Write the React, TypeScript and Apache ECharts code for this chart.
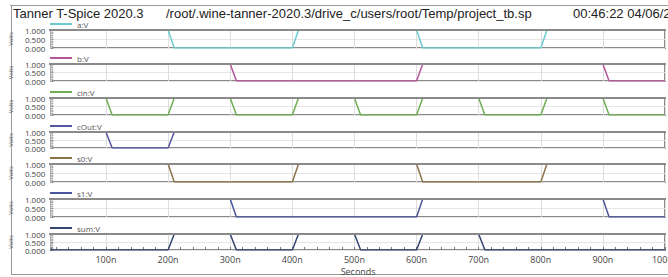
import React, { useEffect, useRef } from "react";
import * as echarts from "echarts";

// Waveform break-points (time in ns, level in V)
const signalNames = ["a:V", "b:V", "cin:V", "cOut:V", "s0:V", "s1:V", "sum:V"];
const aTimes = [0, 200, 210, 400, 410, 600, 610, 800, 810, 1000];
const aVolts = [1, 1, 0, 0, 1, 1, 0, 0, 1, 1];
const bTimes = [0, 300, 310, 600, 610, 900, 910, 1000];
const bVolts = [1, 1, 0, 0, 1, 1, 0, 0];
const cinTimes = [0, 100, 110, 200, 210, 300, 310, 400, 410, 500, 510, 600, 610, 700, 710, 800, 810, 900, 910, 1000];
const cinVolts = [1, 1, 0, 0, 1, 1, 0, 0, 1, 1, 0, 0, 1, 1, 0, 0, 1, 1, 0, 0];
const coutTimes = [0, 100, 110, 200, 210, 1000];
const coutVolts = [1, 1, 0, 0, 1, 1];
const s0Times = [0, 200, 210, 400, 410, 600, 610, 800, 810, 1000];
const s0Volts = [1, 1, 0, 0, 1, 1, 0, 0, 1, 1];
const s1Times = [0, 300, 310, 600, 610, 900, 910, 1000];
const s1Volts = [1, 1, 0, 0, 1, 1, 0, 0];
const sumTimes = [0, 200, 210, 300, 310, 400, 410, 500, 510, 600, 610, 700, 710, 1000];
const sumVolts = [0, 0, 1, 1, 0, 0, 1, 1, 0, 0, 1, 1, 0, 0];
const yTickLabels = ["0.000", "0.500", "1.000"];

const signalTimes = [aTimes, bTimes, cinTimes, coutTimes, s0Times, s1Times, sumTimes];
const signalVolts = [aVolts, bVolts, cinVolts, coutVolts, s0Volts, s1Volts, sumVolts];
const colors = ["#6ccbd0", "#b5559a", "#6fae52", "#55559e", "#8c7448", "#4a5699", "#34466e"];

const gridTops = [30, 64, 98, 132, 164, 199, 234];
const gridHeights = [18, 17, 17, 16, 18, 18, 18];
const GRID_LEFT = 50;
const GRID_WIDTH = 615;
const LABEL_FONT = "'Open Sans', 'DejaVu Sans', sans-serif";

export default function App() {
  const ref = useRef<HTMLDivElement>(null);
  useEffect(() => {
    if (!ref.current) return;
    const chart = echarts.init(ref.current, null, { renderer: "svg" });
    const n = signalNames.length;
    const grids = [];
    const xAxes = [];
    const yAxes = [];
    const series = [];
    const legends = [];
    const graphics: any[] = [];
    for (let i = 0; i < n; i++) {
      const last = i === n - 1;
      grids.push({
        left: GRID_LEFT,
        width: GRID_WIDTH,
        top: gridTops[i],
        height: gridHeights[i],
        show: true,
        backgroundColor: "#ffffff",
        borderColor: "#8a8a8a",
        borderWidth: 2,
      });
      xAxes.push({
        type: "value",
        gridIndex: i,
        min: 12,
        max: 1000,
        splitNumber: 10,
        axisLine: { show: false },
        axisTick: last
          ? { show: true, inside: true, length: 3, lineStyle: { color: "#777" } }
          : { show: false },
        minorTick: last
          ? { show: true, splitNumber: 5, length: 3, lineStyle: { color: "#777" } }
          : { show: false },
        axisLabel: last
          ? {
              show: true,
              showMinLabel: false,
              margin: 5,
              fontSize: 9,
              color: "#444",
              fontFamily: LABEL_FONT,
              formatter: (v: number) => `${v}n`,
            }
          : { show: false },
        splitLine: { show: true, lineStyle: { color: "#dedede", width: 1 } },
        name: last ? "Seconds" : "",
        nameLocation: "middle",
        nameGap: 17,
        nameTextStyle: { fontSize: 9, color: "#444", fontFamily: LABEL_FONT },
      });
      yAxes.push({
        type: "value",
        gridIndex: i,
        min: 0,
        max: 1,
        interval: 0.5,
        axisLine: { show: false },
        axisTick: { show: true, inside: true, length: 2, lineStyle: { color: "#888" } },
        minorTick: { show: true, splitNumber: 5, length: 2, lineStyle: { color: "#aaa" } },
        axisLabel: {
          fontSize: 8,
          lineHeight: 6,
          color: "#444",
          margin: 6,
          interval: 0,
          showMinLabel: true,
          showMaxLabel: true,
          hideOverlap: false,
          fontFamily: LABEL_FONT,
          formatter: (v: number) => yTickLabels[Math.round(v * 2)] ?? v.toFixed(3),
        },
        splitLine: { show: true, lineStyle: { color: "#e6e6e6", width: 1 } },
        name: "Volts",
        nameLocation: "middle",
        nameRotate: 90,
        nameGap: 33,
        nameTextStyle: { fontSize: 6, color: "#555", fontFamily: LABEL_FONT },
      });
      series.push({
        type: "line",
        name: signalNames[i],
        xAxisIndex: i,
        yAxisIndex: i,
        data: signalTimes[i].map((t, k) => [t, signalVolts[i][k]]),
        showSymbol: false,
        symbol: "none",
        lineStyle: { color: colors[i], width: 1.5 },
        itemStyle: { color: colors[i] },
        z: 5,
      });
      legends.push({
        data: [{ name: signalNames[i], icon: "rect" }],
        left: GRID_LEFT,
        top: gridTops[i] - 10,
        padding: 0,
        itemWidth: 22,
        itemHeight: 2,
        itemGap: 5,
        selectedMode: false,
        textStyle: { fontSize: 8, lineHeight: 8, color: "#555", fontFamily: LABEL_FONT, padding: [0, 0, 0, 0] },
      });
      // top border of each plot drawn above the traces
      graphics.push({
        type: "line",
        z: 100,
        shape: {
          x1: GRID_LEFT - 1,
          y1: gridTops[i],
          x2: GRID_LEFT + GRID_WIDTH + 1,
          y2: gridTops[i],
        },
        style: { stroke: "#8a8a8a", lineWidth: 2 },
      });
    }
    // outer frame
    graphics.push(
      { type: "line", shape: { x1: 10, y1: 5.5, x2: 720, y2: 5.5 }, style: { stroke: "#9a9a9a", lineWidth: 1 } },
      { type: "line", shape: { x1: 11.5, y1: 5, x2: 11.5, y2: 275 }, style: { stroke: "#9a9a9a", lineWidth: 1 } },
      { type: "line", shape: { x1: 11, y1: 274.5, x2: 720, y2: 274.5 }, style: { stroke: "#9a9a9a", lineWidth: 1 } }
    );
    const titleStyle = {
      fontSize: 13,
      lineHeight: 12,
      fill: "#222",
      fontFamily: "'Liberation Sans', Arial, sans-serif",
      verticalAlign: "middle",
    };
    graphics.push(
      { type: "text", x: 13, y: 13.5, style: { ...titleStyle, text: "Tanner T-Spice 2020.3" } },
      {
        type: "text",
        x: 166,
        y: 13.5,
        style: { ...titleStyle, text: "/root/.wine-tanner-2020.3/drive_c/users/root/Temp/project_tb.sp" },
      },
      { type: "text", x: 573, y: 13.5, style: { ...titleStyle, text: "00:46:22 04/06/2023" } }
    );

    chart.setOption({
      animation: false,
      backgroundColor: "#ffffff",
      grid: grids,
      xAxis: xAxes,
      yAxis: yAxes,
      legend: legends,
      series,
      graphic: graphics,
    });
    return () => chart.dispose();
  }, []);
  return (
    <div style={{ position: "absolute", left: 0, top: 0, width: 668, height: 277, overflow: "hidden", background: "#fff" }}>
      <div ref={ref} style={{ width: 720, height: 277 }} />
    </div>
  );
}
